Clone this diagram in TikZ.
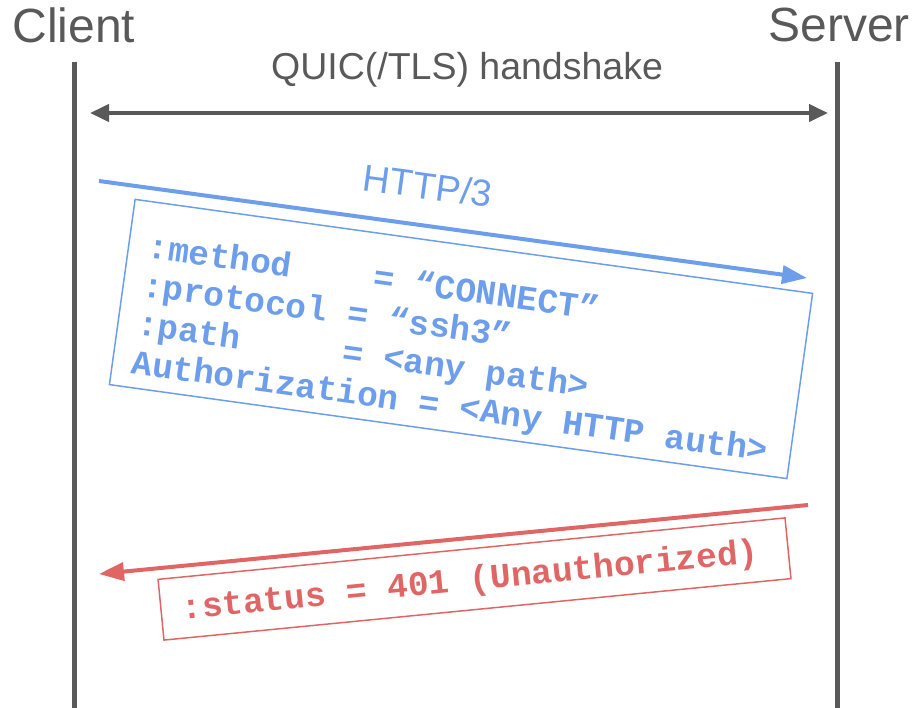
\documentclass[tikz,border=0pt]{standalone}
\usepackage{fontspec}
\setmainfont{Liberation Sans}
\newfontfamily\codefont{Liberation Mono}
\usetikzlibrary{arrows.meta}
\definecolor{lifegray}{HTML}{595959}
\definecolor{reqblue}{HTML}{6D9EEB}
\definecolor{resred}{HTML}{E06666}
\newcommand\csp{\hphantom{x}}
\begin{document}
\begin{tikzpicture}[x=1pt,y=-1pt,
  actor/.style={font=\fontsize{48}{56}\selectfont, text=lifegray, inner sep=0pt},
  lifeline/.style={draw=lifegray, line width=5pt},
  handshake/.style={draw=lifegray, line width=4pt,
    {Triangle[length=19pt,width=17pt]}-{Triangle[length=19pt,width=17pt]}},
  msg/.style={draw=#1, line width=4pt, -{Triangle[length=25pt,width=18pt]}},
  lbl/.style={font=\fontsize{37.5}{44}\selectfont, inner sep=0pt, anchor=base},
  codebox/.style={draw=#1, line width=1.5pt},
  codetext/.style={text=#1, inner sep=0pt,
    font=\codefont\bfseries\fontsize{34.5}{39}\selectfont}
]
\useasboundingbox (0,0) rectangle (913,708);

% actors
\node[actor] (client) at (74,25) {Client};
\node[actor] (server) at (839,25) {Server};

% lifelines
\coordinate (ctop) at (74,62);
\coordinate (cbot) at (74,708);
\coordinate (stop) at (837,62);
\coordinate (sbot) at (837,708);
\draw[lifeline] (ctop) -- (cbot);
\draw[lifeline] (stop) -- (sbot);

% handshake
\node[lbl, text=lifegray] (hslabel) at (467,80) {QUIC(/TLS) handshake};
\coordinate (hsl) at (90,113);
\coordinate (hsr) at (828,113);
\draw[handshake] (hsl) -- (hsr);

% request
\coordinate (reqa) at (99,181);
\coordinate (reqb) at (807,278);
\draw[msg=reqblue] (reqa) -- (reqb);
\node[lbl, text=reqblue, rotate=-7.7] (httplabel) at (426,199) {HTTP/3};
\node[codebox=reqblue, rotate=-7.9, minimum width=684pt, minimum height=187pt]
  (req) at (461,339) {};
\node[codetext=reqblue, rotate=-7.9, align=left, text width=645pt]
  (reqtext) at (459.4,350.9)
  {:method\csp\csp\csp\csp=\csp“CONNECT”\\
   :protocol\csp=\csp“ssh3”\\
   :path\csp\csp\csp\csp\csp=\csp<any\csp path>\\
   Authorization\csp=\csp<Any\csp HTTP\csp auth>};

% response
\coordinate (resa) at (808,505);
\coordinate (resb) at (99,574);
\draw[msg=resred] (resa) -- (resb);
\node[codebox=resred, rotate=5.6, minimum width=630pt, minimum height=61pt]
  (res) at (474.5,579) {};
\node[codetext=resred, rotate=5.6] (restext) at (470,582)
  {:status\csp=\csp401\csp(Unauthorized)};
\end{tikzpicture}
\end{document}
